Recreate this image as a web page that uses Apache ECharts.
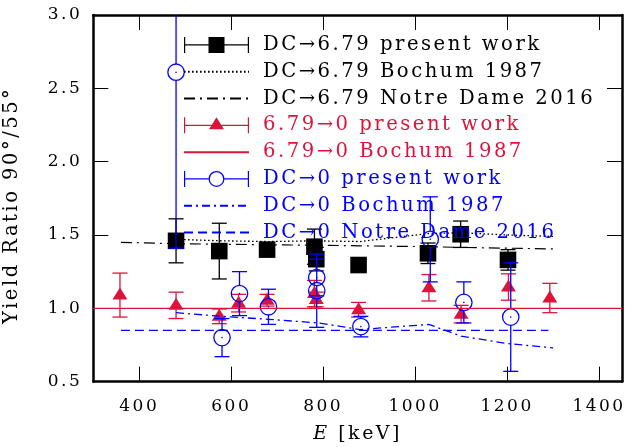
<!DOCTYPE html>
<html><head><meta charset="utf-8">
<script src="https://cdn.jsdelivr.net/npm/echarts@6/dist/echarts.min.js"></script>
<style>html,body{margin:0;padding:0;background:#fff}#c{width:637px;height:447px}</style>
</head><body><div id="c"></div>
<script>
// letter spacing for all canvas text (reference text is letter-spaced)
(function(){
  const orig = HTMLCanvasElement.prototype.getContext;
  HTMLCanvasElement.prototype.getContext = function(t, o){
    const ctx = orig.call(this, t, o);
    if (t === '2d' && ctx && ('letterSpacing' in ctx)) { try { ctx.letterSpacing = '2.5px'; } catch(e){} }
    return ctx;
  };
})();

// ---- data ----
const xTicks = [400, 600, 800, 1000, 1200, 1400];
// [E, ratio, error]
const dc679Present = [[480,1.46,0.15],[574,1.39,0.19],[678,1.40,0.03],[781,1.42,0.12],[785,1.335,0.08],[877,1.295,0.03],[1028,1.375,0.07],[1099,1.505,0.09],[1202,1.33,0.07]];
const dc679Bochum = [[480,1.47],[580,1.46],[680,1.455],[780,1.46],[880,1.455],[1030,1.51],[1100,1.515],[1200,1.50],[1300,1.49]];
const dc679ND = [[360,1.45],[480,1.44],[580,1.437],[680,1.433],[790,1.43],[880,1.426],[1030,1.42],[1100,1.415],[1200,1.41],[1300,1.405]];
const g0Present = [[358,1.09,0.15],[480,1.02,0.09],[574,0.945,0.05],[616,1.035,0.06],[678,1.055,0.04],[781,1.10,0.09],[785,1.06,0.05],[877,0.99,0.05],[1030,1.14,0.09],[1100,0.96,0.06],[1203,1.145,0.09],[1293,1.07,0.10]];
const g0Bochum = [[300,1.0],[1450,1.0]];
const dc0Present = [[480,2.61,1.2],[580,0.80,0.13],[618,1.10,0.15],[681,1.01,0.12],[786,1.21,0.125],[786,1.12,0.25],[882,0.875,0.07],[1033,1.47,0.29],[1106,1.04,0.14],[1208,0.94,0.37]];
const dc0Bochum = [[480,0.97],[580,0.945],[680,0.925],[790,0.90],[880,0.855],[1030,0.89],[1100,0.81],[1200,0.76],[1300,0.73]];
const dc0ND = [[360,0.85],[480,0.85],[580,0.85],[680,0.85],[790,0.85],[880,0.85],[1030,0.85],[1100,0.85],[1200,0.85],[1290,0.85]];

const names = ['DC→6.79 present work','DC→6.79 Bochum 1987','DC→6.79 Notre Dame 2016',
  '6.79→0 present work','6.79→0 Bochum 1987',
  'DC→0 present work','DC→0 Bochum 1987','DC→0 Notre Dame 2016'];

const C_BLACK = '#000000', C_RED = '#dc143c', C_BLUE = '#0000ff';
const FONT = 'DejaVu Serif';

const BAR = 'M0 7.4 H65 V8.6 H0 Z M0 0 H1.2 V16 H0 Z M63.8 0 H65 V16 H63.8 Z ';
const ICON_SQ = 'path://' + BAR + 'M24.5 0 H40.5 V16 H24.5 Z';
const ICON_TRI = 'path://' + BAR + 'M25 12 L32.5 0 L40 12 Z';
const ICON_CIR = 'path://M0 7.4 H24.5 V8.6 H0 Z M40.5 7.4 H65 V8.6 H40.5 Z M0 0 H1.2 V16 H0 Z M63.8 0 H65 V16 H63.8 Z ' +
  'M24.5 8 A8 8 0 1 1 40.5 8 A8 8 0 1 1 24.5 8 Z M25.8 8 A6.7 6.7 0 1 0 39.2 8 A6.7 6.7 0 1 0 25.8 8 Z';

function errorBarSeries(name, data, color, marker) {
  return {
    name: name, type: 'custom', data: data,
    itemStyle: { color: color },
    encode: { x: 0, y: 1 },
    renderItem: function (params, api) {
      const xv = api.value(0), yv = api.value(1), ev = api.value(2);
      const p = api.coord([xv, yv]);
      const pt = api.coord([xv, yv + ev]);
      const pb = api.coord([xv, yv - ev]);
      const cs = params.coordSys;
      const y0 = cs.y, y1 = cs.y + cs.height;
      const hw = 7.5;
      const st = { stroke: color, lineWidth: 1.3, fill: 'none' };
      const ch = [];
      const top = Math.max(pt[1], y0), bot = Math.min(pb[1], y1);
      const gap = marker === 'circle' ? 8.2 : 0;
      if (p[1] - gap > top) ch.push({ type: 'line', shape: { x1: p[0], y1: top, x2: p[0], y2: p[1] - gap }, style: st });
      if (p[1] + gap < bot) ch.push({ type: 'line', shape: { x1: p[0], y1: p[1] + gap, x2: p[0], y2: bot }, style: st });
      if (pt[1] >= y0) ch.push({ type: 'line', shape: { x1: p[0] - hw, y1: pt[1], x2: p[0] + hw, y2: pt[1] }, style: st });
      if (pb[1] <= y1) ch.push({ type: 'line', shape: { x1: p[0] - hw, y1: pb[1], x2: p[0] + hw, y2: pb[1] }, style: st });
      if (marker === 'square') {
        ch.push({ type: 'rect', shape: { x: p[0] - 8.3, y: p[1] - 8.3, width: 16.6, height: 16.6 }, style: { fill: color } });
      } else if (marker === 'triangle') {
        ch.push({ type: 'polygon', shape: { points: [[p[0], p[1] - 7.5], [p[0] - 7.5, p[1] + 4.5], [p[0] + 7.5, p[1] + 4.5]] }, style: { fill: color } });
      } else {
        ch.push({ type: 'circle', shape: { cx: p[0], cy: p[1], r: 8.2 }, style: { fill: 'none', stroke: color, lineWidth: 1.3 } });
        ch.push({ type: 'circle', shape: { cx: p[0], cy: p[1], r: 0.8 }, style: { fill: color } });
      }
      return { type: 'group', children: ch };
    }
  };
}

function lineSeries(name, data, color, dash, width) {
  return {
    name: name, type: 'line', data: data, symbol: 'none', showSymbol: false,
    itemStyle: { color: color },
    lineStyle: { color: color, width: width, type: dash, cap: 'butt' },
    silent: true
  };
}

const tickStyle = { color: '#000', width: 1 };
const axisLine = { show: true, lineStyle: { color: '#000', width: 2.5 } };
const hiddenSym = { opacity: 0, color: 'rgba(0,0,0,0)', borderWidth: 0 };

const chart = echarts.init(document.getElementById('c'), null, { renderer: 'canvas' });
chart.setOption({
  animation: false,
  backgroundColor: '#fff',
  grid: { left: 93.3, top: 15, width: 528.7, height: 366.6, outerBoundsMode: 'none', containLabel: false },
  xAxis: [{
    type: 'value', min: 300, max: 1450, position: 'bottom',
    axisLine: axisLine,
    axisTick: { show: true, inside: true, length: 15, lineStyle: tickStyle, customValues: xTicks },
    axisLabel: { show: true, customValues: xTicks, fontFamily: FONT, fontSize: 17, color: '#000', margin: 15,
      formatter: function (v) { return String(v); } },
    splitLine: { show: false },
    name: '{i|E} [keV]', nameLocation: 'middle', nameGap: 42, nameMoveOverlap: false,
    nameTextStyle: { fontFamily: FONT, fontSize: 19, color: '#000', rich: { i: { fontFamily: FONT, fontSize: 19, fontStyle: 'italic', color: '#000' } } }
  }, {
    type: 'value', min: 300, max: 1450, position: 'top',
    axisLine: axisLine,
    axisTick: { show: true, inside: true, length: 15, lineStyle: tickStyle, customValues: xTicks },
    axisLabel: { show: false }, splitLine: { show: false }
  }],
  yAxis: [{
    type: 'value', min: 0.5, max: 3.0, interval: 0.5, position: 'left',
    axisLine: axisLine,
    axisTick: { show: true, inside: true, length: 15, lineStyle: tickStyle },
    axisLabel: { fontFamily: FONT, fontSize: 17, color: '#000', margin: 11, formatter: function (v) { return v.toFixed(1); } },
    splitLine: { show: false },
    name: 'Yield Ratio 90°/55°', nameLocation: 'middle', nameGap: 70, nameMoveOverlap: false,
    nameTextStyle: { fontFamily: FONT, fontSize: 19.5, color: '#000', padding: [0, 14, 0, 0] }
  }, {
    type: 'value', min: 0.5, max: 3.0, interval: 0.5, position: 'right',
    axisLine: axisLine,
    axisTick: { show: true, inside: true, length: 15, lineStyle: tickStyle },
    axisLabel: { show: false }, splitLine: { show: false }
  }],
  legend: {
    orient: 'vertical', left: 183, top: 33.7, padding: 0,
    itemWidth: 65, itemHeight: 16, itemGap: 4.3, selectedMode: false,
    textStyle: { fontFamily: FONT, fontSize: 19.6, lineHeight: 16, padding: [0, 0, 0, 9] },
    data: [
      { name: names[0], icon: ICON_SQ, textStyle: { color: C_BLACK } },
      { name: names[1], itemStyle: hiddenSym, textStyle: { color: C_BLACK } },
      { name: names[2], itemStyle: hiddenSym, textStyle: { color: C_BLACK } },
      { name: names[3], icon: ICON_TRI, textStyle: { color: C_RED } },
      { name: names[4], itemStyle: hiddenSym, textStyle: { color: C_RED } },
      { name: names[5], icon: ICON_CIR, textStyle: { color: C_BLUE } },
      { name: names[6], itemStyle: hiddenSym, textStyle: { color: C_BLUE } },
      { name: names[7], itemStyle: hiddenSym, textStyle: { color: C_BLUE } }
    ]
  },
  series: [
    lineSeries(names[1], dc679Bochum, C_BLACK, [1.6, 2.4], 1.3),
    lineSeries(names[2], dc679ND, C_BLACK, [11, 5, 2, 5], 1.2),
    errorBarSeries(names[0], dc679Present, C_BLACK, 'square'),
    lineSeries(names[4], g0Bochum, C_RED, 'solid', 1.2),
    errorBarSeries(names[3], g0Present, C_RED, 'triangle'),
    lineSeries(names[6], dc0Bochum, C_BLUE, [8, 4, 2, 4], 1.3),
    lineSeries(names[7], dc0ND, C_BLUE, [9, 5], 1.3),
    errorBarSeries(names[5], dc0Present, C_BLUE, 'circle')
  ]
});
</script>
</body></html>
